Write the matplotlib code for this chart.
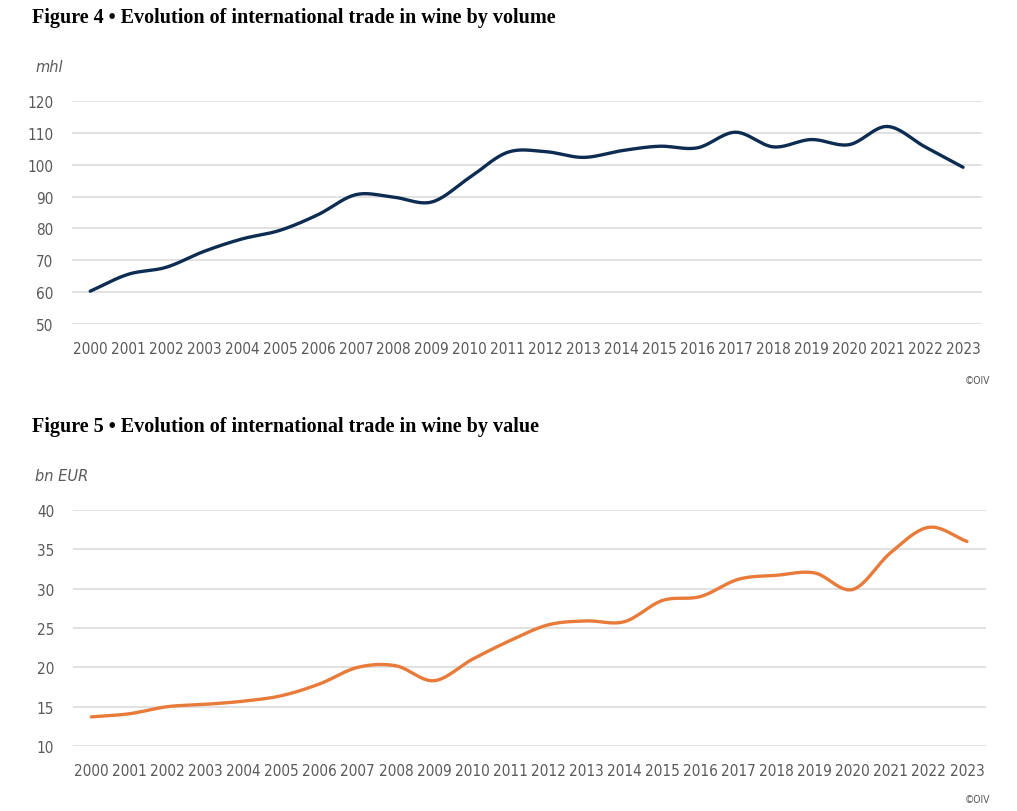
import numpy as np
import matplotlib
matplotlib.use("Agg")
import matplotlib.pyplot as plt
from matplotlib import font_manager

years = [str(y) for y in range(2000, 2024)]

# international trade in wine, volume (mhl)
volume_mhl = [60.3, 65.6, 67.8, 72.8, 76.7, 79.4, 84.3, 90.6, 89.8, 88.3, 96.0, 103.9,
              104.1, 102.3, 104.4, 105.8, 105.3, 110.2, 105.6, 107.9, 106.3, 112.0, 105.6, 99.2]

# international trade in wine, value (bn EUR)
value_bn_eur = [13.7, 14.1, 15.0, 15.3, 15.7, 16.4, 17.9, 20.0, 20.2, 18.3, 21.0, 23.4,
                25.4, 25.9, 25.8, 28.5, 29.0, 31.2, 31.7, 32.0, 29.9, 34.6, 37.8, 36.0]

NAVY = "#0c2c52"
ORANGE = "#e97b3a"
GRID = "#d9d9d9"
TICK = "#595959"
TITLE_FONT = ["Liberation Serif", "DejaVu Serif"]


def is_narrow(f):
    return f.stretch == "condensed" or "Narrow" in f.name or "Condensed" in f.name


# look for a narrow sans face (upright and italic), the reference uses a condensed one
upright = italic = None
for f in font_manager.fontManager.ttflist:
    if not is_narrow(f) or f.weight not in (400, "normal", "regular"):
        continue
    if f.style == "normal" and upright is None:
        upright = f
for f in font_manager.fontManager.ttflist:
    if upright is not None and f.name == upright.name and f.style in ("italic", "oblique") \
            and f.weight == upright.weight:
        italic = f
        break

if upright is not None:
    tick_fp = font_manager.FontProperties(fname=upright.fname, size=11)
    small_fp = font_manager.FontProperties(fname=upright.fname, size=7.5)
    if italic is not None:
        label_fp = font_manager.FontProperties(fname=italic.fname, size=10.5)
    else:
        label_fp = font_manager.FontProperties(family="Liberation Sans", style="italic", size=9.5)
else:
    tick_fp = font_manager.FontProperties(family="Liberation Sans", size=10)
    small_fp = font_manager.FontProperties(family="Liberation Sans", size=7.5)
    label_fp = font_manager.FontProperties(family="Liberation Sans", style="italic", size=9.5)


def smooth(x, y, steps=20):
    """Catmull-Rom curve through the points, like Excel's smoothed line."""
    x = np.asarray(x, float)
    y = np.asarray(y, float)
    px = np.concatenate([[2 * x[0] - x[1]], x, [2 * x[-1] - x[-2]]])
    py = np.concatenate([[2 * y[0] - y[1]], y, [2 * y[-1] - y[-2]]])
    t = np.linspace(0, 1, steps, endpoint=False)
    xs, ys = [], []
    for i in range(1, len(px) - 2):
        for p, out in ((px, xs), (py, ys)):
            p0, p1, p2, p3 = p[i - 1], p[i], p[i + 1], p[i + 2]
            out.append(0.5 * ((2 * p1) + (-p0 + p2) * t
                              + (2 * p0 - 5 * p1 + 4 * p2 - p3) * t ** 2
                              + (-p0 + 3 * p1 - 3 * p2 + p3) * t ** 3))
    xs = np.concatenate(xs + [[x[-1]]])
    ys = np.concatenate(ys + [[y[-1]]])
    return xs, ys


def draw_panel(ax, values, color, ylim, step):
    pos = np.arange(len(years))
    sx, sy = smooth(pos, values)
    ax.plot(sx, sy, color=color, lw=2.4, solid_capstyle="round", zorder=3)
    ax.set_xlim(-0.48, len(years) - 0.5)
    ax.set_ylim(*ylim)
    ax.set_yticks(np.arange(ylim[0], ylim[1] + 0.1, step))
    ax.set_xticks(pos)
    ax.set_xticklabels(years)
    ax.yaxis.grid(True, color=GRID, lw=1.1)
    ax.set_axisbelow(True)
    for s in ax.spines.values():
        s.set_visible(False)
    ax.tick_params(length=0, colors=TICK)
    ax.tick_params(axis="y", pad=13.5)
    ax.tick_params(axis="x", pad=12.5)
    for lab in ax.get_xticklabels() + ax.get_yticklabels():
        lab.set_fontproperties(tick_fp)


fig = plt.figure(figsize=(10.17, 8.12), dpi=100)

ax1 = fig.add_axes([72 / 1017, 1 - 325 / 812, 910 / 1017, 223 / 812])
draw_panel(ax1, volume_mhl, NAVY, (50, 120), 10)

ax2 = fig.add_axes([73 / 1017, 1 - 747 / 812, 913 / 1017, 236 / 812])
draw_panel(ax2, value_bn_eur, ORANGE, (10, 40), 5)

fig.text(32 / 1017, 1 - 18 / 812, "Figure 4 \u2022 Evolution of international trade in wine by volume",
         family=TITLE_FONT, weight="bold", fontsize=14.5, va="center", color="black")
fig.text(32 / 1017, 1 - 427 / 812, "Figure 5 \u2022 Evolution of international trade in wine by value",
         family=TITLE_FONT, weight="bold", fontsize=14.5, va="center", color="black")

fig.text(35 / 1017, 1 - 68 / 812, "mhl", fontproperties=label_fp,
         color=TICK, va="center")
fig.text(35 / 1017, 1 - 477 / 812, "bn EUR", fontproperties=label_fp,
         color=TICK, va="center")

fig.text(990 / 1017, 1 - 381 / 812, "\u00a9OIV", fontproperties=small_fp,
         color=TICK, ha="right", va="center")
fig.text(990 / 1017, 1 - 800 / 812, "\u00a9OIV", fontproperties=small_fp,
         color=TICK, ha="right", va="center")

fig.savefig("out.png", dpi=100, facecolor="white")
